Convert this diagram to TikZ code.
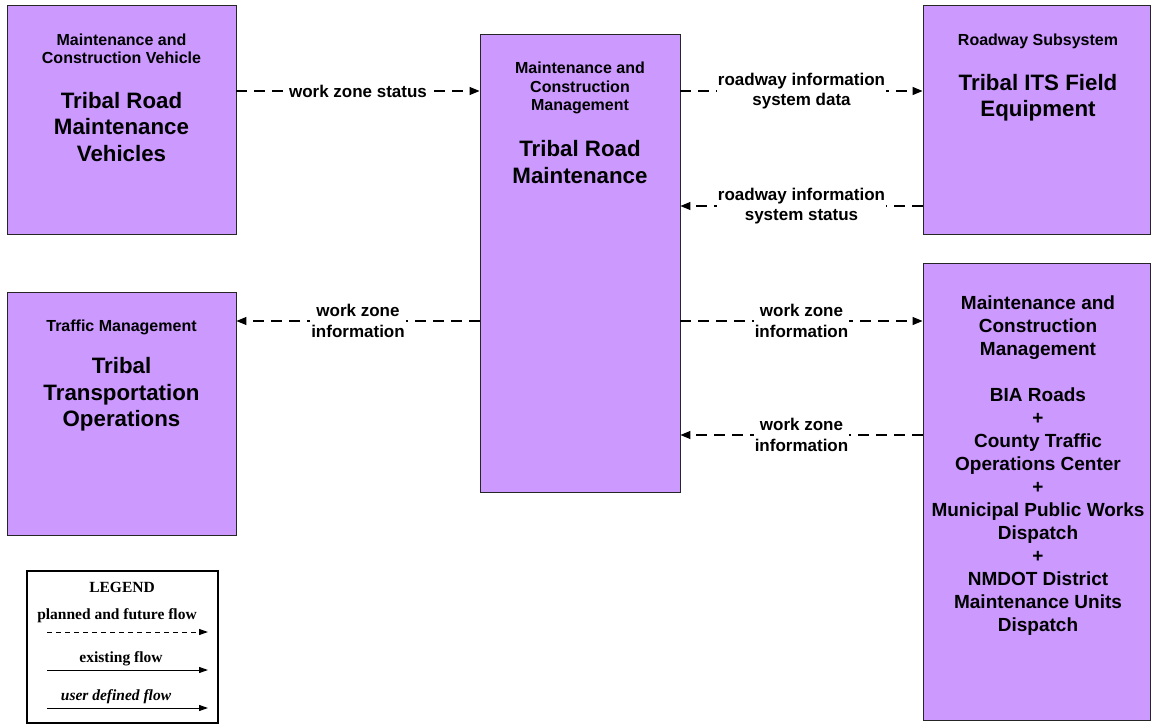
\documentclass[tikz,border=0pt]{standalone}
\usepackage{fontspec}
\setmainfont{Liberation Sans}
\newfontfamily\tnr{Liberation Serif}
\usetikzlibrary{arrows.meta}
\definecolor{boxfill}{RGB}{204,153,255}
\tikzset{
  sysbox/.style={draw=black!85, line width=0.9pt, fill=boxfill, inner sep=0pt},
  hdr/.style={align=center, font=\bfseries\fontsize{16}{18.5}\selectfont, inner sep=0pt},
  ttl/.style={align=center, font=\bfseries\fontsize{22.3}{26.5}\selectfont, inner sep=0pt},
  etxt/.style={align=center, font=\bfseries\fontsize{19}{23}\selectfont, inner sep=0pt},
  flow/.style={line width=1.2pt, dash pattern=on 11pt off 7pt, -{Triangle[length=10pt,width=8pt]}},
  lbl/.style={fill=white, align=center, inner sep=1pt, font=\bfseries\fontsize{17}{20.5}\selectfont},
  legtxt/.style={font=\tnr\bfseries\fontsize{15.5}{17}\selectfont, inner sep=0pt},
  legarrow/.style={line width=1pt, -{Triangle[length=9pt,width=6pt]}}
}
\begin{document}
\begin{tikzpicture}[x=1pt,y=-1pt]
\useasboundingbox (0,0) rectangle (1151,725);
% boxes
\node[sysbox, minimum width=229pt, minimum height=229pt] (A) at (121.5,119.5) {};
\node[sysbox, minimum width=229pt, minimum height=243pt] (B) at (121.5,413.5) {};
\node[sysbox, minimum width=200pt, minimum height=458pt] (C) at (580,263) {};
\node[sysbox, minimum width=227pt, minimum height=229pt] (D) at (1036.5,119.5) {};
\node[sysbox, minimum width=227pt, minimum height=457pt] (E) at (1036.5,491.5) {};
% texts
\node[hdr] (Ah) at (121.5,49) {Maintenance and\\Construction Vehicle};
\node[ttl] (At) at (121.5,127) {Tribal Road\\Maintenance\\Vehicles};
\node[hdr] (Bh) at (121.5,327) {Traffic Management};
\node[ttl] (Bt) at (121.5,394.5) {Tribal\\Transportation\\Operations};
\node[hdr] (Ch) at (580,88) {Maintenance and\\Construction\\Management};
\node[ttl] (Ct) at (580,162) {Tribal Road\\Maintenance};
\node[hdr] (Dh) at (1038,41.5) {Roadway Subsystem};
\node[ttl] (Dt) at (1038,97.5) {Tribal ITS Field\\Equipment};
\node[etxt] (Et) at (1038,466) {Maintenance and\\Construction\\Management\\[23pt]BIA Roads\\+\\County Traffic\\Operations Center\\+\\Municipal Public Works\\Dispatch\\+\\NMDOT District\\Maintenance Units\\Dispatch};
% flows
\draw[flow] (A.east |- 0,91) -- node[lbl] {work zone status} (C.west |- 0,91);
\draw[flow] (C.east |- 0,91) -- node[lbl] {roadway information\\system data} (D.west |- 0,91);
\draw[flow] (D.west |- 0,206) -- node[lbl] {roadway information\\system status} (C.east |- 0,206);
\draw[flow] (C.west |- 0,321) -- node[lbl] {work zone\\information} (B.east |- 0,321);
\draw[flow] (C.east |- 0,321) -- node[lbl] {work zone\\information} (E.west |- 0,321);
\draw[flow] (E.west |- 0,435) -- node[lbl] {work zone\\information} (C.east |- 0,435);
% legend
\node[draw=black, line width=1.3pt, fill=white, minimum width=191pt, minimum height=152pt, inner sep=0pt] (L) at (122.5,647) {};
\node[legtxt] (L1) at (122,587) {LEGEND};
\node[legtxt] (L2) at (117,616) {planned and future flow};
\node[legtxt] (L3) at (121,659) {existing flow};
\node[legtxt, font=\tnr\bfseries\itshape\fontsize{15.5}{17}\selectfont] (L4) at (116,697) {user defined flow};
\coordinate (p1) at (47,632); \coordinate (q1) at (208,632);
\coordinate (p2) at (47,670); \coordinate (q2) at (208,670);
\coordinate (p3) at (47,708); \coordinate (q3) at (208,708);
\draw[legarrow, dash pattern=on 5pt off 4pt] (p1) -- (q1);
\draw[legarrow] (p2) -- (q2);
\draw[legarrow] (p3) -- (q3);
\end{tikzpicture}
\end{document}
